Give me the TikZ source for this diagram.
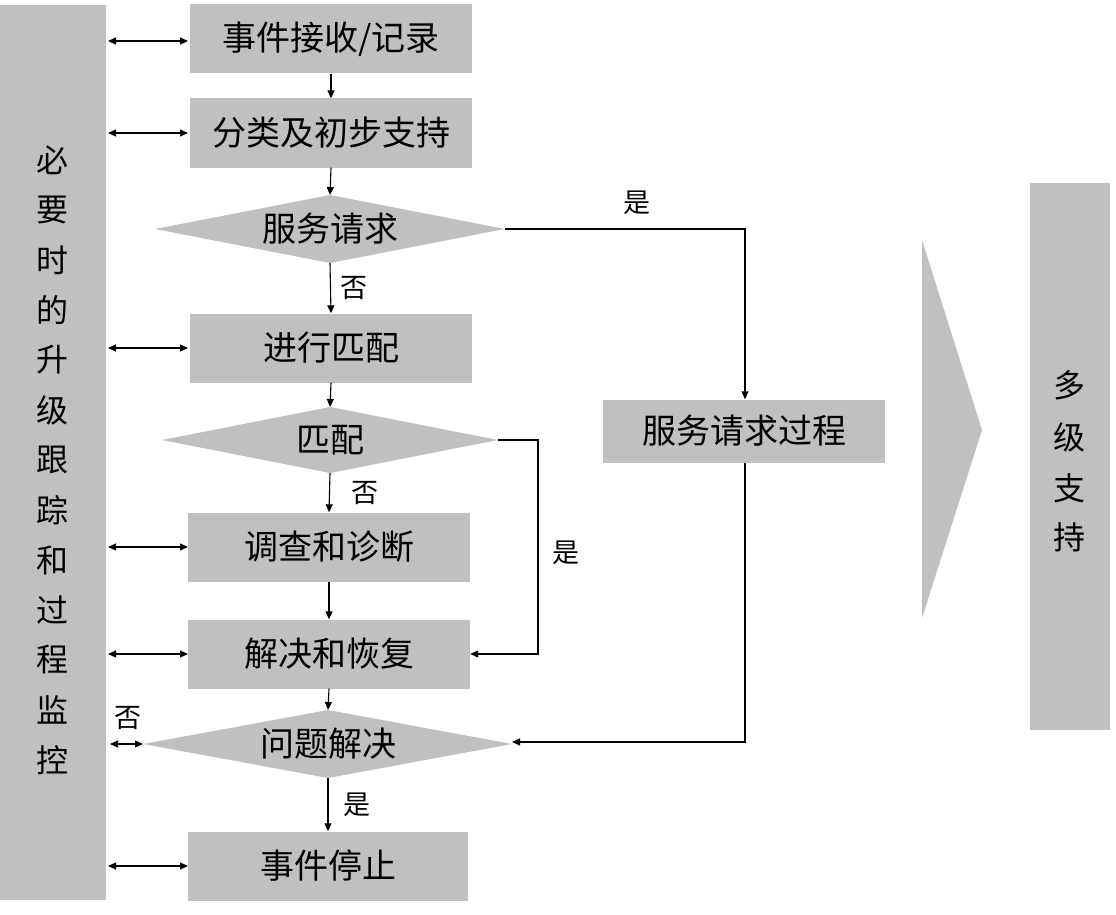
\documentclass[tikz,border=0pt]{standalone}
\usepackage{fontspec}
\setmainfont{Noto Sans CJK SC}
\usetikzlibrary{arrows.meta}
\definecolor{bx}{HTML}{C0C0C0}
\begin{document}
\begin{tikzpicture}[x=1pt,y=-1pt,
  gbox/.style={fill=bx,draw=none,minimum width=282pt,minimum height=69pt,inner sep=0pt,font=\fontsize{34}{36}\selectfont},
  gdia/.style={fill=bx,draw=none},
  dtext/.style={font=\fontsize{34}{36}\selectfont},
  lab/.style={font=\fontsize{27}{30}\selectfont},
  arr/.style={-{Triangle[length=8pt,width=7pt]},line width=1.1pt},
  darr/.style={{Triangle[length=8pt,width=7pt]}-{Triangle[length=8pt,width=7pt]},line width=1.1pt}]
\useasboundingbox (0,0) rectangle (1116,915);
\fill[bx] (0,5) rectangle (106,900);
\foreach \c [count=\i from 0] in {必,要,时,的,升,级,跟,踪,和,过,程,监,控}
  \node[font=\fontsize{32}{34}\selectfont] at (52,160+\i*50) {\c};
\fill[bx] (1030,183) rectangle (1110,730);
\foreach \c/\y in {多/385,级/437,支/488,持/537}
  \node[font=\fontsize{32}{34}\selectfont] at (1069,\y) {\c};
\fill[bx] (922,240) -- (982,430) -- (922,618) -- cycle;
\node[gbox] (b1) at (331,39) {事件接收/记录};
\node[gbox] (b2) at (331,133) {分类及初步支持};
\fill[bx] (155,229) -- (330,195) -- (505,229) -- (330,263) -- cycle;
\node[dtext] (d1) at (330,229) {服务请求};
\coordinate (d1r) at (505,229); \coordinate (d1t) at (330,195); \coordinate (d1b) at (330,263);
\node[gbox] (b3) at (331,348) {进行匹配};
\fill[bx] (162,440) -- (330,407) -- (498,440) -- (330,473) -- cycle;
\node[dtext] (d2) at (330,440) {匹配};
\coordinate (d2r) at (498,440); \coordinate (d2t) at (330,407); \coordinate (d2b) at (330,473);
\node[gbox] (b4) at (329,547) {调查和诊断};
\node[gbox] (b5) at (329,654) {解决和恢复};
\fill[bx] (143,744) -- (328,710) -- (512,744) -- (328,778) -- cycle;
\node[dtext] (d3) at (328,744) {问题解决};
\coordinate (d3r) at (512,742); \coordinate (d3l) at (143,744); \coordinate (d3t) at (328,710); \coordinate (d3b) at (328,778);
\node[gbox,minimum width=280pt] (b6) at (328,866) {事件停止};
\node[gbox,minimum height=63pt] (sr) at (744,431) {服务请求过程};
% left double arrows
\foreach \n/\y in {b1/41,b2/133,b3/348,b4/547,b5/654,b6/866}
  \draw[darr] (108,\y) -- (188,\y);
\coordinate (lz) at (110,744);
\draw[darr] (lz) -- (d3l);
\node[lab] at (128,718) {否};
% vertical arrows
\draw[arr] (b1.south) -- (b2.north);
\draw[arr] (b2.south) -- (d1t);
\draw[arr] (d1b) -- (b3.north) node[lab,midway,right=6pt] {否};
\draw[arr] (b3.south) -- (d2t);
\draw[arr] (d2b) -- (b4.north) node[lab,midway,right=18pt] {否};
\draw[arr] (b4.south) -- (b5.north);
\draw[arr] (b5.south) -- (d3t);
\draw[arr] (d3b) -- (b6.north) node[lab,midway,right=12pt] {是};
% right routes
\draw[arr] (d1r) -- (745,229) -- (sr.north -| 745,0);
\node[lab] at (637,203) {是};
\draw[arr] (d2r) -- (538,440) -- (538,654) -- (b5.east);
\node[lab] at (566,553) {是};
\draw[arr] (sr.south -| 745,0) -- (745,742) -- (d3r);
\end{tikzpicture}
\end{document}
